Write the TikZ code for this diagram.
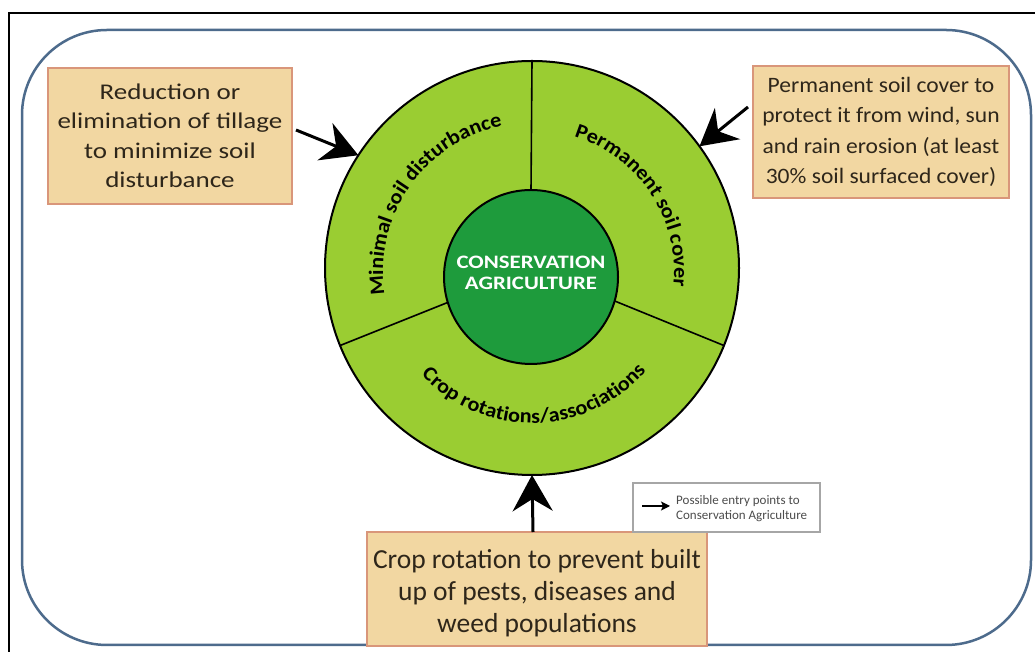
\documentclass[tikz,border=0pt]{standalone}
\usepackage{fontspec}
\setmainfont{Carlito}
\newfontfamily\lboxfont[FakeStretch=1.2]{Carlito}
\newfontfamily\rboxfont[FakeStretch=1.07]{Carlito}
\newfontfamily\ringfont[FakeStretch=1.08]{Carlito}
\newfontfamily\corefont[FakeStretch=1.2]{Carlito}
\usetikzlibrary{arrows.meta,decorations.text}
\definecolor{ringgreen}{HTML}{9ACD32}
\definecolor{coregreen}{HTML}{1E9B3C}
\definecolor{boxfill}{HTML}{F2D7A2}
\definecolor{boxline}{HTML}{D9967A}
\definecolor{frameblue}{HTML}{4D6B8C}
\definecolor{boxtext}{HTML}{2E261A}
\begin{document}
\begin{tikzpicture}[x=1pt,y=1pt,
  infobox/.style={draw=boxline, fill=boxfill, line width=1.5pt, inner sep=0pt, outer sep=0pt, align=center, text=boxtext},
  entry/.style={line width=3pt, -{Stealth[length=36pt,width=40pt,inset=12pt]}},
  divider/.style={line width=1.6pt},
  ringlabel/.style={decorate, decoration={text along path, text align=center}},
  disc/.style={circle, draw, line width=2pt, inner sep=0pt, outer sep=0pt}
]
\useasboundingbox (0,0) rectangle (1035,652);
\fill[white] (0,0) rectangle (1035,652);
\draw[line width=2pt] (9,0) -- (9,639) -- (1035,639);
\draw[frameblue, line width=2.5pt, rounded corners=85pt] (22,7) rectangle (1031,622);

\node[disc, fill=ringgreen, minimum size=414pt] (ring) at (532,384) {};
\node[disc, fill=coregreen, minimum size=174pt] (core) at (531,375) {};
\node[text=white, align=center, inner sep=0pt,
      font=\corefont\bfseries\fontsize{19}{20.5}\selectfont] (coretext) at (531,379) {CONSERVATION\\AGRICULTURE};
\draw[divider] (core.90) -- (ring.90);
\draw[divider] (core.197) -- (ring.202);
\draw[divider] (core.-16) -- (ring.-22);

\path[ringlabel, decoration={text={|\ringfont\bfseries\fontsize{20.5}{20}\selectfont|Minimal soil disturbance}}]
  ([shift={(198:149)}]532,380) arc[start angle=198, end angle=92, radius=149];
\path[ringlabel, decoration={text={|\ringfont\bfseries\fontsize{20.5}{20}\selectfont|Permanent soil cover}}]
  ([shift={(85:142)}]532,380) arc[start angle=85, end angle=-18, radius=142];
\path[ringlabel, decoration={text={|\ringfont\bfseries\fontsize{20.5}{20}\selectfont|Crop rotations/associations}}]
  ([shift={(206:151)}]532,380) arc[start angle=206, end angle=336, radius=151];

\node[infobox, minimum width=244pt, minimum height=136pt,
      font=\lboxfont\fontsize{22.5}{29.5}\selectfont] (lbox) at (170,516)
      {Reduction or\\elimination of tillage\\to minimize soil\\disturbance};
\node[infobox, minimum width=256pt, minimum height=132pt,
      font=\rboxfont\fontsize{22}{30.5}\selectfont] (rbox) at (881,520)
      {Permanent soil cover to\\protect it from wind, sun\\and rain erosion (at least\\30\% soil surfaced cover)};
\node[infobox, minimum width=340pt, minimum height=114pt] (bbox) at (537,63) {};
\node[align=center, text=boxtext, inner sep=0pt,
      font=\fontsize{27.5}{32}\selectfont] (btext) at (537,59)
      {Crop rotation to prevent built\\up of pests, diseases and\\weed populations};

\draw[entry] ([xshift=4pt,yshift=6pt]lbox.east) -- (ring.147);
\draw[entry] ([xshift=-5pt,yshift=25pt]rbox.west) -- (ring.36);
\draw[entry] ([xshift=-4pt]bbox.north) -- (ring.270);

\node[draw=gray!70, line width=1.2pt, minimum width=187pt, minimum height=49pt,
      inner sep=0pt, outer sep=0pt, fill=white] (legend) at (726.5,144.5) {};
\coordinate (lgA) at (642,146);
\coordinate (lgB) at (670,146);
\draw[line width=1.3pt, -{Stealth[length=9pt,width=9pt,inset=2pt]}] (lgA) -- (lgB);
\node[anchor=west, align=left, text=black!70, font=\fontsize{13}{15}\selectfont, inner sep=0pt] (legtext) at (676,143)
  {Possible entry points to\\Conservation Agriculture};
\end{tikzpicture}
\end{document}
